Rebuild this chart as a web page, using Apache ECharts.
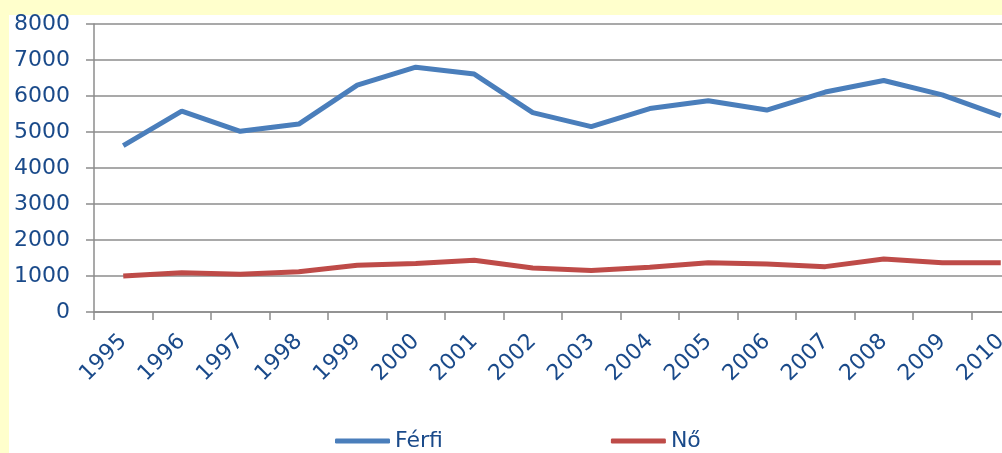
<!DOCTYPE html>
<html>
<head>
<meta charset="utf-8">
<script src="https://cdn.jsdelivr.net/npm/echarts@6/dist/echarts.min.js"></script>
<style>
html,body{margin:0;padding:0;background:#FFFFCC;}
#chart{width:1002px;height:453px;}
</style>
</head>
<body>
<div id="chart"></div>
<script>
var years = ['1995','1996','1997','1998','1999','2000','2001','2002','2003','2004','2005','2006','2007','2008','2009','2010'];
var ferfi = [4620, 5580, 5020, 5220, 6300, 6800, 6610, 5540, 5150, 5650, 5870, 5610, 6110, 6430, 6030, 5450];
var no = [1000, 1090, 1050, 1120, 1300, 1350, 1440, 1220, 1150, 1240, 1370, 1330, 1260, 1470, 1370, 1370];
var seriesNames = ['Férfi', 'Nő'];
var yTicks = [0, 1000, 2000, 3000, 4000, 5000, 6000, 7000, 8000];

var textColor = '#1A4A8A';
var font = 'DejaVu Sans';
var chart = echarts.init(document.getElementById('chart'));
chart.setOption({
  backgroundColor: '#FFFFCC',
  animation: false,
  graphic: [{
    type: 'rect', z: -100, silent: true,
    shape: {x: 9, y: 15, width: 1000, height: 450},
    style: {fill: '#FFFFFF'}
  }],
  grid: {left: 94, top: 24, width: 936, height: 288, containLabel: false, outerBoundsMode: 'none'},
  legend: {
    data: seriesNames,
    left: 330, top: 425,
    itemWidth: 55, itemHeight: 5, itemGap: 168,
    icon: 'roundRect',
    textStyle: {color: textColor, fontFamily: font, fontSize: 22}
  },
  xAxis: {
    type: 'category',
    data: years,
    boundaryGap: true,
    axisLine: {lineStyle: {color: '#8C8C8C', width: 1.5}},
    axisTick: {show: true, length: 8, lineStyle: {color: '#8C8C8C', width: 1.5}},
    axisLabel: {rotate: 45, margin: 26, color: textColor, fontFamily: font, fontSize: 22, interval: 0},
    splitLine: {show: false}
  },
  yAxis: {
    type: 'value',
    min: yTicks[0], max: yTicks[yTicks.length - 1], interval: 1000,
    axisLine: {show: true, lineStyle: {color: '#8C8C8C', width: 1.5}},
    axisTick: {show: true, length: 8, lineStyle: {color: '#8C8C8C', width: 1.5}},
    axisLabel: {margin: 24, color: textColor, fontFamily: font, fontSize: 22, formatter: function (v) { return String(v); }},
    splitLine: {lineStyle: {color: '#8C8C8C', width: 1.5}}
  },
  series: [
    {name: seriesNames[0], type: 'line', data: ferfi, symbol: 'none', lineStyle: {color: '#4A7EBB', width: 5}, itemStyle: {color: '#4A7EBB'}},
    {name: seriesNames[1], type: 'line', data: no, symbol: 'none', lineStyle: {color: '#BE4B48', width: 5}, itemStyle: {color: '#BE4B48'}}
  ]
});
</script>
</body>
</html>
